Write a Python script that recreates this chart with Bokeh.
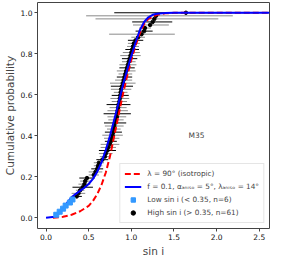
from bokeh.plotting import figure
from bokeh.models import ColumnDataSource, FixedTicker, Range1d, Label, Legend, LegendItem
from bokeh.embed import file_html
from bokeh.resources import INLINE

N_TOTAL = 67

# Low sin i sample (< 0.35), ranks 1..6
low_x = [0.12, 0.16, 0.20, 0.23, 0.28, 0.31]

# High sin i sample (> 0.35), ranks 7..67
high_x = [0.36, 0.38, 0.40, 0.43, 0.45, 0.46, 0.48,
          0.56, 0.58, 0.60, 0.61, 0.62, 0.66, 0.69,
          0.70, 0.72, 0.73, 0.75, 0.76, 0.77, 0.78, 0.79, 0.795, 0.80,
          0.81, 0.82, 0.83, 0.835, 0.84, 0.845, 0.85, 0.86, 0.865, 0.87,
          0.875, 0.88, 0.89, 0.90, 0.91, 0.92, 0.93, 0.94, 0.95, 0.96,
          0.97, 0.98, 0.99, 1.00, 1.01, 1.02, 1.03, 1.05,
          1.08, 1.12, 1.15, 1.16, 1.22, 1.25, 1.27, 1.29, 1.64]
high_err_lo = [0.06, 0.08, 0.05, 0.12, 0.07, 0.06, 0.09,
               0.06, 0.08, 0.07, 0.05, 0.06, 0.07, 0.06,
               0.08, 0.10, 0.09, 0.11, 0.07, 0.09, 0.12, 0.10, 0.08, 0.11,
               0.13, 0.09, 0.11, 0.16, 0.12, 0.10, 0.14, 0.09, 0.11, 0.10,
               0.08, 0.12, 0.13, 0.15, 0.10, 0.09, 0.08, 0.11, 0.09, 0.10,
               0.08, 0.09, 0.12, 0.10, 0.08, 0.07, 0.07, 0.09,
               0.08, 0.38, 0.10, 0.07, 0.20, 0.24, 0.69, 0.82, 0.84]
high_err_hi = [0.06, 0.08, 0.05, 0.12, 0.07, 0.06, 0.09,
               0.06, 0.08, 0.07, 0.05, 0.06, 0.07, 0.06,
               0.08, 0.10, 0.09, 0.11, 0.07, 0.09, 0.12, 0.10, 0.08, 0.11,
               0.13, 0.09, 0.11, 0.16, 0.12, 0.10, 0.14, 0.09, 0.11, 0.10,
               0.08, 0.12, 0.13, 0.15, 0.10, 0.09, 0.08, 0.11, 0.09, 0.10,
               0.08, 0.09, 0.12, 0.10, 0.08, 0.07, 0.07, 0.09,
               0.08, 0.39, 0.10, 0.07, 0.22, 0.23, 0.75, 0.90, 0.86]

# Model curves
iso_x = [0.08, 0.2, 0.3, 0.4, 0.5, 0.55, 0.6, 0.65, 0.7, 0.75, 0.8, 0.85, 0.9,
         0.95, 1.0, 1.05, 1.1, 1.15, 1.2, 1.3, 1.4, 1.5, 2.62]
iso_y = [0.0, 0.005, 0.015, 0.032, 0.058, 0.082, 0.115, 0.16, 0.22, 0.30, 0.40,
         0.50, 0.60, 0.69, 0.77, 0.84, 0.90, 0.945, 0.97, 0.99, 0.997, 1.0, 1.0]

aniso_x = [0.0, 0.1, 0.15, 0.2, 0.25, 0.3, 0.35, 0.4, 0.45, 0.5, 0.55, 0.6, 0.65,
           0.7, 0.75, 0.8, 0.85, 0.9, 0.95, 1.0, 1.05, 1.1, 1.15, 1.2, 1.25,
           1.3, 1.4, 1.5, 2.62]
aniso_y = [0.0, 0.005, 0.02, 0.045, 0.075, 0.10, 0.117, 0.132, 0.147, 0.165,
           0.19, 0.225, 0.27, 0.33, 0.40, 0.48, 0.56, 0.645, 0.72, 0.79, 0.855,
           0.915, 0.955, 0.978, 0.99, 0.995, 0.999, 1.0, 1.0]

x_ticks = [0.0, 0.5, 1.0, 1.5, 2.0, 2.5]
y_ticks = [0.0, 0.2, 0.4, 0.6, 0.8, 1.0]

FONT = "DejaVu Sans"

low_y = [(i + 1) / N_TOTAL for i in range(len(low_x))]
high_y = [(len(low_x) + i + 1) / N_TOTAL for i in range(len(high_x))]

p = figure(width=271, height=259, output_backend="svg", toolbar_location=None,
           x_range=Range1d(-0.1, 2.62), y_range=Range1d(-0.052, 1.05),
           min_border_left=2, min_border_right=2, min_border_top=2, min_border_bottom=1)
p.xgrid.visible = False
p.ygrid.visible = False
p.outline_line_color = "#444444"
p.outline_line_width = 1

# error bars (alternating black / grey)
bar_src = ColumnDataSource(dict(
    x0=[x - e for x, e in zip(high_x, high_err_lo)],
    x1=[x + e for x, e in zip(high_x, high_err_hi)],
    y=high_y,
    c=["#000000" if i % 3 == 0 else "#8a8a8a" for i in range(len(high_x))],
))
p.segment(x0="x0", x1="x1", y0="y", y1="y", color="c", line_width=1, source=bar_src)

r_high = p.scatter(high_x, high_y, marker="circle", size=3.5, color="black")
r_iso = p.line(iso_x, iso_y, color="red", line_width=2, line_dash="6 3")
r_aniso = p.line(aniso_x, aniso_y, color="blue", line_width=2)
r_low = p.scatter(low_x, low_y, marker="square", size=5, color="#3399ff")

legend = Legend(items=[
    LegendItem(label="λ = 90° (isotropic)", renderers=[r_iso]),
    LegendItem(label="f = 0.1, αₐₙᵢₛₒ = 5°, λₐₙᵢₛₒ = 14°", renderers=[r_aniso]),
    LegendItem(label="Low sin i (< 0.35, n=6)", renderers=[r_low]),
    LegendItem(label="High sin i (> 0.35, n=61)", renderers=[r_high]),
], location="bottom_right")
legend.label_text_font = FONT
legend.label_text_font_size = "7.3px"
legend.label_height = 11
legend.glyph_height = 11
legend.glyph_width = 17
legend.label_standoff = 6
legend.spacing = 2
legend.padding = 4
legend.margin = 5
legend.border_line_color = "#cccccc"
legend.background_fill_alpha = 0.85
p.add_layout(legend)

p.add_layout(Label(x=1.67, y=0.40, text="M35", text_font=FONT, text_font_size="7.5px",
                   text_baseline="middle", text_align="left"))

for ax, ticks in ((p.xaxis, x_ticks), (p.yaxis, y_ticks)):
    ax.ticker = FixedTicker(ticks=ticks)
    ax.minor_tick_line_color = None
    ax.axis_line_color = None
    ax.major_tick_line_color = "#444444"
    ax.major_tick_out = 3
    ax.major_tick_in = 0
    ax.major_label_text_font = FONT
    ax.major_label_text_font_size = "7.5px"
    ax.major_label_text_color = "#111111"
    ax.major_label_standoff = 2
    ax.axis_label_text_font = FONT
    ax.axis_label_text_font_size = "10.5px"
    ax.axis_label_text_font_style = "normal"
    ax.axis_label_standoff = 2

p.xaxis.major_label_overrides = {t: f"{t:.1f}" for t in x_ticks}
p.yaxis.major_label_overrides = {t: f"{t:.1f}" for t in y_ticks}
p.xaxis.axis_label = "sin i"
p.yaxis.axis_label = "Cumulative probability"

open("out.html", "w").write(file_html(p, INLINE))
